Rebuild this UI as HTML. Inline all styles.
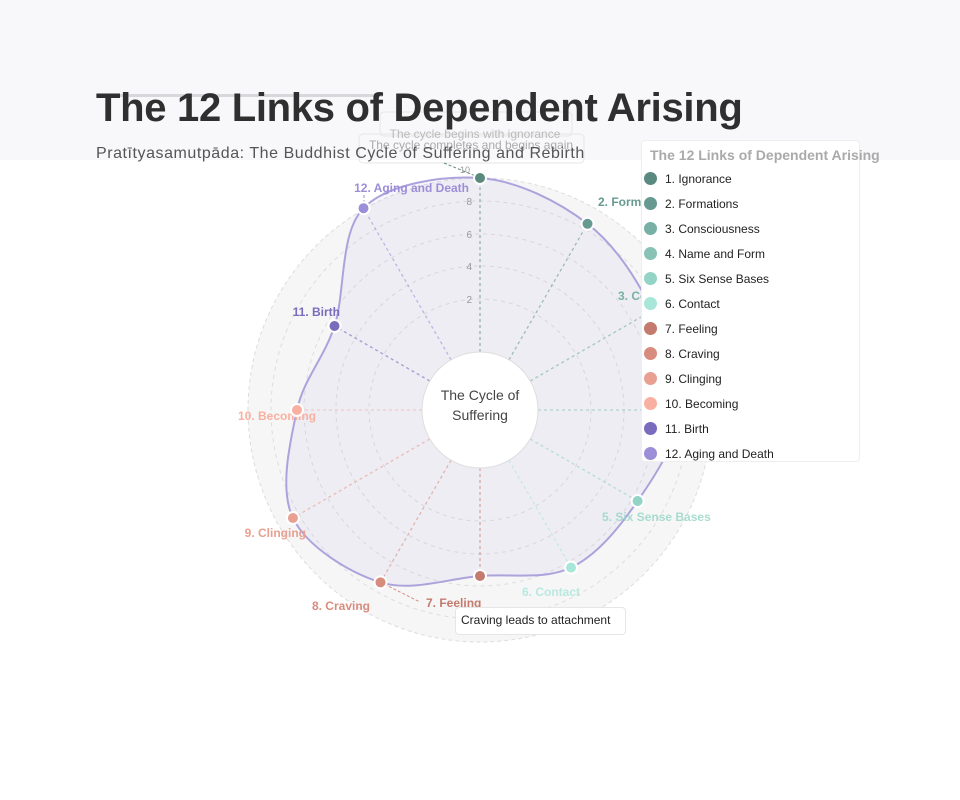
<!DOCTYPE html>
<html><head><meta charset="utf-8">
<style>
html,body{margin:0;padding:0;background:#fff;}
body{width:960px;height:800px;position:relative;overflow:hidden;font-family:"Liberation Sans",sans-serif;}
.band{position:absolute;left:0;top:0;width:960px;height:160px;background:#f8f8fb;}
.bar{position:absolute;left:96px;top:94px;width:287px;height:3px;background:#d8d8dc;}
h1{position:absolute;left:96px;top:86px;margin:0;font-size:40px;font-weight:bold;color:#2f2f2f;letter-spacing:-0.3px;}
.sub{position:absolute;left:96px;top:145px;font-size:16px;color:#555;letter-spacing:0.55px;}
svg{position:absolute;left:0;top:0;}
.legend{position:absolute;left:641px;top:140px;width:217px;height:320px;background:#fff;border:1px solid #eee;border-radius:4px;}
.lt{position:absolute;left:650px;top:147px;font-size:14px;font-weight:bold;color:#aaa;white-space:nowrap;}
.li{position:absolute;left:644px;font-size:12px;color:#222;white-space:nowrap;}
.li i{display:inline-block;width:13px;height:13px;border-radius:50%;vertical-align:-2px;margin-right:8px;}
.tip{position:absolute;left:455px;top:607px;width:171px;height:28px;border:1px solid #e6e6e6;border-radius:4px;background:#fff;font-size:12px;color:#222;line-height:24px;padding-left:5px;box-sizing:border-box;}
</style></head><body>
<div class="band"></div>
<div class="bar"></div>
<svg id="s2" width="960" height="800" viewBox="0 0 960 800"></svg>
<h1>The 12 Links of Dependent Arising</h1>
<svg id="s" width="960" height="800" viewBox="0 0 960 800"></svg>
<div class="sub">Pratītyasamutpāda: The Buddhist Cycle of Suffering and Rebirth</div>
<div class="legend"></div>
<div class="lt">The 12 Links of Dependent Arising</div>
<div id="leg"></div>
<div class="tip">Craving leads to attachment</div>
<script>
var cols=["#5a8a7f","#669a90","#79b0a5","#87c2b4","#94d4c6","#a8e6d9","#c47a6c","#d88c7e","#e8a092","#f9b0a0","#7b6bbd","#9d8ed8"];
var names=["1. Ignorance","2. Formations","3. Consciousness","4. Name and Form","5. Six Sense Bases","6. Contact","7. Feeling","8. Craving","9. Clinging","10. Becoming","11. Birth","12. Aging and Death"];
var rs=[232,215,199,200,182,182,166,199,216,183,168,233];
var cx=480,cy=410,h='';
h+='<circle cx="480" cy="410" r="232" fill="#f6f6f6" stroke="#ddd" stroke-dasharray="4 3"/>';
[111,144,176,209].forEach(function(r){h+='<circle cx="480" cy="410" r="'+r+'" fill="none" stroke="#ddd" stroke-dasharray="4 4"/>';});
var P=[];
for(var i=0;i<12;i++){var a=i*Math.PI/6;P.push([cx+rs[i]*Math.sin(a),cy-rs[i]*Math.cos(a)]);}
var d='M'+P[0][0]+','+P[0][1];
for(var i=0;i<12;i++){var p0=P[(i+11)%12],p1=P[i],p2=P[(i+1)%12],p3=P[(i+2)%12];
d+=' C'+(p1[0]+(p2[0]-p0[0])/6)+','+(p1[1]+(p2[1]-p0[1])/6)+' '+(p2[0]-(p3[0]-p1[0])/6)+','+(p2[1]-(p3[1]-p1[1])/6)+' '+p2[0]+','+p2[1];}
h+='<path d="'+d+'Z" fill="rgba(157,142,216,0.08)" stroke="#ada3dc" stroke-width="2"/>';
for(var i=0;i<12;i++){var a=i*Math.PI/6;
h+='<line x1="'+(cx+58*Math.sin(a))+'" y1="'+(cy-58*Math.cos(a))+'" x2="'+P[i][0]+'" y2="'+P[i][1]+'" stroke="'+cols[i]+'" stroke-opacity="0.6" stroke-dasharray="3 3" stroke-width="1.3"/>';}
[[2,299],[4,266],[6,234],[8,201]].forEach(function(t){h+='<text x="472" y="'+(t[1]+4)+'" font-size="10" fill="#999" text-anchor="end" font-family="Liberation Sans">'+t[0]+'</text>';});
h+='<circle cx="480" cy="410" r="58" fill="#fff" stroke="#ddd"/>';
h+='<text x="480" y="400" font-size="14" fill="#444" text-anchor="middle" font-family="Liberation Sans">The Cycle of</text><text x="480" y="420" font-size="14" fill="#444" text-anchor="middle" font-family="Liberation Sans">Suffering</text>';
h+='<line x1="444" y1="163" x2="478" y2="177" stroke="#5a8a7f" stroke-dasharray="3 2"/>';
h+='<line x1="364" y1="195" x2="364" y2="207" stroke="#9d8ed8" stroke-dasharray="3 2"/>';
h+='<line x1="380" y1="582" x2="420" y2="602" stroke="#d88c7e" stroke-dasharray="3 2"/>';
var labs=[[598,206,"start"],[598,206,"start"],[618,300,"start"],[647,420,"start"],[602,521,"start"],[522,596,"start"],[426,607,"start"],[370,610,"end"],[306,537,"end"],[316,420,"end"],[340,316,"end"],[469,192,"end"]];
for(var i=1;i<12;i++){h+='<text x="'+labs[i][0]+'" y="'+labs[i][1]+'" font-size="12" font-weight="bold" fill="'+cols[i]+'" fill-opacity="'+(i==3?0.15:(i==4||i==5?0.8:1))+'" text-anchor="'+labs[i][2]+'" font-family="Liberation Sans">'+names[i]+'</text>';}
for(var i=0;i<12;i++){h+='<circle cx="'+P[i][0]+'" cy="'+P[i][1]+'" r="6" fill="'+cols[i]+'" stroke="#fff" stroke-width="2"/>';}
h+='<text x="470" y="173" font-size="9" fill="#999" text-anchor="end" font-family="Liberation Sans">10</text>';
document.getElementById('s').innerHTML=h;
var g='';
g+='<rect x="380" y="112" width="192" height="24" rx="4" fill="none" stroke="#e6e6e6"/>';
g+='<rect x="359" y="134" width="225" height="29" rx="4" fill="none" stroke="#e6e6e6"/>';
g+='<text x="475" y="138" font-size="12" fill="#bbb" text-anchor="middle" font-family="Liberation Sans">The cycle begins with ignorance</text>';
g+='<text x="471" y="149" font-size="12" fill="#aaa" text-anchor="middle" font-family="Liberation Sans">The cycle completes and begins again</text>';
document.getElementById('s2').innerHTML=g;
var l='';for(var i=0;i<12;i++){l+='<div class="li" style="top:'+(172+i*25)+'px"><i style="background:'+cols[i]+'"></i>'+names[i]+'</div>';}
document.getElementById('leg').innerHTML=l;
</script>
</body></html>
